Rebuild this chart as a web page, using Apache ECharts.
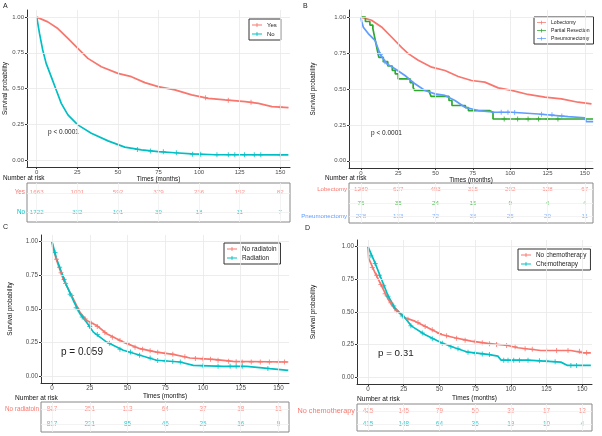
<!DOCTYPE html>
<html lang="en">
<head>
<meta charset="UTF-8" />
<title>Survival curves</title>
<script src="https://cdn.jsdelivr.net/npm/echarts@6/dist/echarts.min.js"></script>
<style>
  html, body { margin: 0; padding: 0; background: #fff; }
  #main { width: 602px; height: 436px; }
</style>
</head>
<body>
<div id="main"></div>
<script>
const RED = '#F8766D', TEAL = '#00BFC4', GREEN = '#2DA82D', BLUE = '#619CFF'
const FONT = 'Liberation Sans, Arial, sans-serif'

// shared ticks
const riskTimes = [0, 25, 50, 75, 100, 125, 150]
const probTicks = [0, 0.25, 0.5, 0.75, 1]

// A: surgery yes / no
const yesCurve = [[0,1],[6.8,0.967],[13,0.92],[19.2,0.851],[25.3,0.781],[31.5,0.711],[39.8,0.652],[50,0.606],[58.3,0.583],[66.6,0.541],[74.8,0.513],[85.1,0.49],[95.4,0.455],[105.7,0.431],[116,0.42],[128.4,0.408],[136.6,0.396],[144.9,0.373],[155.1,0.366]]
const noCurve = [[0,1],[1.7,0.886],[3.7,0.769],[5.8,0.676],[8.9,0.583],[12,0.49],[15.1,0.396],[19.2,0.315],[25.3,0.245],[33.6,0.186],[43.9,0.133],[54.2,0.089],[64.5,0.07],[74.8,0.058],[85,0.05],[95.4,0.042],[110,0.036],[155,0.035]]
const yesCensor = [[104,0.435],[118,0.418],[132,0.404],[150,0.37]]
const noCensor = [[62,0.072],[70,0.062],[78,0.056],[86,0.05],[96,0.04],[101,0.04],[111,0.035],[118,0.035],[122,0.035],[128,0.035],[134,0.035],[138,0.035],[150,0.035]]
const yesRisk = [1663, 1001, 592, 379, 236, 152, 82]
const noRisk = [1722, 332, 101, 39, 18, 11, 7]

// B: type of surgery
const lobCurve = [[0,1],[7.1,0.979],[13.8,0.932],[20.5,0.862],[27.2,0.79],[31.7,0.746],[38.4,0.70],[47.4,0.652],[56.3,0.629],[65.2,0.587],[74.1,0.559],[83,0.548],[92,0.508],[101,0.49],[112,0.462],[123.2,0.443],[134.4,0.431],[145.5,0.408],[154.5,0.396]]
const partCurve = [[0,1],[3,0.97],[6,0.945],[8,0.92],[9,0.87],[10,0.82],[11,0.77],[12,0.72],[15,0.69],[18,0.66],[21,0.63],[23,0.605],[25,0.57],[33,0.545],[35,0.51],[36,0.49],[46,0.475],[47,0.448],[59,0.42],[61,0.385],[70,0.37],[72,0.35],[86,0.338],[88.5,0.291],[155.5,0.291]]
const pneuCurve = [[0,1],[0.5,0.97],[1.6,0.93],[4.9,0.886],[9.4,0.839],[12.7,0.746],[17.2,0.676],[22.8,0.641],[29.5,0.594],[36.2,0.536],[42.9,0.49],[49.6,0.466],[56.3,0.455],[63,0.42],[69.7,0.373],[78.6,0.35],[89.8,0.338],[101,0.338],[118.8,0.326],[138.9,0.308],[150,0.30],[151,0.273],[155.6,0.273]]
const lobCensor = []
const partCensor = [[96,0.291],[105,0.291],[112,0.291],[119,0.291],[125,0.291],[132,0.291]]
const pneuCensor = [[13,0.74],[16,0.69],[94,0.338],[98.5,0.338],[103,0.336],[121,0.325],[128,0.32],[134.6,0.312]]
const lobRisk = [1289, 627, 493, 315, 202, 128, 67]
const partRisk = [76, 35, 24, 15, 9, 4, 4]
const pneuRisk = [278, 133, 72, 38, 25, 20, 11]

// C: radiation
const noRadCurve = [[0,1],[0.5,0.958],[3.1,0.86],[7.5,0.72],[14.1,0.575],[18.5,0.475],[23,0.415],[29.6,0.378],[36.2,0.316],[47.2,0.254],[58.3,0.205],[69.3,0.18],[80.3,0.163],[91.4,0.136],[106.8,0.126],[120,0.111],[156.5,0.106]]
const radCurve = [[0,1],[3.1,0.87],[6.4,0.77],[9.7,0.674],[14.1,0.563],[18.5,0.464],[23,0.40],[27.4,0.328],[36.2,0.254],[47.2,0.193],[58.3,0.156],[69.3,0.119],[84.8,0.106],[93.6,0.081],[113.5,0.074],[129,0.074],[144.4,0.057],[156.5,0.044]]
const noRadCensor = [[3,0.87],[6,0.77],[9,0.69],[13,0.6],[17,0.5],[22,0.425],[26,0.395],[30,0.37],[35,0.325],[40,0.29],[45,0.265],[50,0.245],[55,0.215],[60,0.2],[65,0.19],[70,0.178],[75,0.17],[80,0.163],[88,0.145],[95,0.132],[100,0.128],[105,0.126],[110,0.12],[117,0.112],[122,0.108],[126,0.106],[132,0.106],[138,0.106],[144,0.106],[150,0.106],[154,0.106]]
const radCensor = [[2,0.92],[5,0.81],[8,0.72],[12,0.61],[16,0.51],[20,0.44],[25,0.37],[30,0.31],[38,0.245],[45,0.2],[52,0.18],[58,0.156],[65,0.135],[70,0.118],[75,0.113],[80,0.11],[85,0.106],[100,0.078],[110,0.075],[118,0.074],[122,0.074],[126,0.074],[143,0.058]]
const noRadRisk = [817, 251, 113, 64, 37, 18, 11]
const radRisk = [817, 221, 85, 46, 25, 16, 9]

// D: chemotherapy
const noChemoCurve = [[0,1],[0.5,0.91],[4.9,0.80],[9.5,0.70],[14.2,0.595],[18.8,0.52],[25.8,0.456],[32.8,0.43],[42,0.379],[51.4,0.328],[60.7,0.303],[72.3,0.277],[83.9,0.26],[97.8,0.244],[104.8,0.227],[121,0.206],[142,0.206],[151,0.188],[156,0.188]]
const chemoCurve = [[0,1],[4.9,0.875],[9.5,0.748],[14.2,0.62],[18.8,0.532],[25.8,0.456],[30.5,0.392],[39.7,0.328],[51.4,0.265],[60.7,0.227],[70,0.193],[83.9,0.176],[90.9,0.163],[93.2,0.132],[111.8,0.132],[135,0.117],[139.7,0.092],[156,0.092]]
const noChemoCensor = [[3,0.84],[6,0.78],[9,0.71],[12,0.64],[16,0.57],[20,0.51],[28,0.445],[35,0.42],[40,0.39],[45,0.365],[50,0.335],[55,0.318],[62,0.3],[68,0.285],[75,0.272],[80,0.265],[85,0.258],[90,0.252],[97,0.245],[103,0.235],[110,0.22],[115,0.215],[125,0.206],[132,0.206],[140,0.206],[148,0.2],[153,0.188]]
const chemoCensor = [[2,0.93],[5,0.87],[8,0.78],[11,0.7],[14,0.62],[18,0.545],[24,0.47],[30,0.395],[38,0.34],[45,0.295],[52,0.262],[58,0.235],[63,0.22],[70,0.193],[75,0.185],[80,0.18],[85,0.175],[95,0.132],[98,0.132],[102,0.132],[106,0.132],[112,0.132],[120,0.128],[125,0.125],[131,0.12],[142,0.092],[146,0.092]]
const noChemoRisk = [415, 145, 79, 50, 32, 17, 12]
const chemoRisk = [415, 148, 64, 36, 19, 10, 4]

// layout per panel; fs = [tick, axis title, legend, risk number, row label, "Number at risk"]
const panels = [
  { letter: 'A', letterPos: [3, 3], plot: [27, 10, 263, 157], xr: [-6, 156], table: [27, 183, 263, 39],
    yGap: 19, xGap: 7, names: ['Yes', 'No'], colors: [RED, TEAL], curves: [yesCurve, noCurve],
    censors: [yesCensor, noCensor], steps: [false, false], risk: [yesRisk, noRisk], legendW: 10,
    legend: [249, 19], p: ['p < 0.0001', 48, 132, 6.5], nar: [3, 178], fs: [6, 6.3, 6, 6.2, 6.3, 6.4] },
  { letter: 'B', letterPos: [303, 3], plot: [349, 10, 244, 158], xr: [-8, 155.5], table: [349, 183, 244, 40],
    yGap: 33, xGap: 6, names: ['Lobectomy', 'Partial Resection', 'Pneumonectomy'], colors: [RED, GREEN, BLUE],
    curves: [lobCurve, partCurve, pneuCurve], censors: [lobCensor, partCensor, pneuCensor],
    steps: [false, 'end', false], risk: [lobRisk, partRisk, pneuRisk], legendW: 9,
    legend: [534, 17], p: ['p < 0.0001', 371, 133, 6.5], nar: [325, 178], fs: [6, 6.3, 5.1, 6.2, 6.1, 6.4] },
  { letter: 'C', letterPos: [3, 224], plot: [41, 235, 248, 148], xr: [-7.3, 157], table: [41, 402, 248, 30],
    yGap: 28, xGap: 10, names: ['No radiatoin', 'Radiation'], colors: [RED, TEAL], curves: [noRadCurve, radCurve],
    censors: [noRadCensor, radCensor], steps: [false, false], risk: [noRadRisk, radRisk], legendW: 10,
    legend: [224, 243], p: ['p = 0.059', 61, 352, 10], nar: [15, 398], fs: [6.3, 6.4, 6.4, 6.4, 6.3, 6.6] },
  { letter: 'D', letterPos: [305, 225], plot: [357, 240, 235, 144], xr: [-7.7, 156.8], table: [357, 404, 235, 27],
    yGap: 40, xGap: 11, names: ['No chemotherapy', 'Chemotherapy'], colors: [RED, TEAL],
    curves: [noChemoCurve, chemoCurve], censors: [noChemoCensor, chemoCensor], steps: [false, false],
    risk: [noChemoRisk, chemoRisk], legendW: 10, legend: [518, 249], p: ['p = 0.31', 378, 353, 9.8], nar: [357, 399],
    fs: [6.3, 6.5, 6.4, 6.4, 7.3, 6.6] }
]

const PLUS = 'path://M4,0H6V4H10V6H6V10H4V6H0V4H4Z'
const LEG_ICON = 'path://M0,4H24V6H0Z M11,0H13V10H11Z'

const grid = [], xAxis = [], yAxis = [], series = [], legend = [], graphic = []

panels.forEach((p) => {
  const fs = p.fs
  const gi = grid.length
  // survival plot
  grid.push({ left: p.plot[0], top: p.plot[1], width: p.plot[2], height: p.plot[3] })
  xAxis.push({
    gridIndex: gi, type: 'value', min: p.xr[0], max: p.xr[1],
    axisLine: { onZero: false, lineStyle: { color: '#333', width: 1 } },
    axisTick: { customValues: riskTimes, length: 2, lineStyle: { color: '#333' } },
    axisLabel: { customValues: riskTimes, fontSize: fs[0], color: '#4d4d4d', margin: 2, fontFamily: FONT },
    splitLine: { show: false },
    name: 'Times (months)', nameLocation: 'middle', nameGap: p.xGap,
    nameTextStyle: { fontSize: fs[1], color: '#111', fontFamily: FONT }
  })
  yAxis.push({
    gridIndex: gi, type: 'value', min: -0.05, max: 1.05,
    axisLine: { show: true, onZero: false, lineStyle: { color: '#333', width: 1 } },
    axisTick: { show: true, customValues: probTicks, length: 2, lineStyle: { color: '#333' } },
    axisLabel: { customValues: probTicks, fontSize: fs[0], color: '#4d4d4d', margin: 3, fontFamily: FONT,
      formatter: v => v.toFixed(2) },
    splitLine: { show: false },
    name: 'Survival probability', nameLocation: 'middle', nameGap: p.yGap, nameRotate: 90,
    nameTextStyle: { fontSize: fs[1], color: '#111', fontFamily: FONT }
  })
  // grid lines, carried by an invisible copy of the first curve
  series.push({
    type: 'line', xAxisIndex: gi, yAxisIndex: gi, data: p.curves[0], silent: true, z: 1,
    showSymbol: false, lineStyle: { opacity: 0 }, tooltip: { show: false },
    markLine: {
      silent: true, symbol: 'none', label: { show: false }, animation: false,
      lineStyle: { color: '#e9e9e9', width: 0.8, type: 'solid' },
      data: riskTimes.map(t => ({ xAxis: t })).concat(probTicks.map(v => ({ yAxis: v })))
    }
  })
  p.names.forEach((name, i) => {
    series.push({
      type: 'line', name, xAxisIndex: gi, yAxisIndex: gi, data: p.curves[i], step: p.steps[i],
      showSymbol: false, z: 3, lineStyle: { width: 1.7, color: p.colors[i] }, itemStyle: { color: p.colors[i] }
    })
    series.push({
      type: 'scatter', name: name + ' censor', xAxisIndex: gi, yAxisIndex: gi, data: p.censors[i],
      symbol: PLUS, symbolSize: 5, z: 4, silent: true, itemStyle: { color: p.colors[i] }
    })
  })

  // risk table
  const ti = grid.length
  grid.push({ left: p.table[0], top: p.table[1], width: p.table[2], height: p.table[3],
    show: true, borderColor: '#888', borderWidth: 1 })
  xAxis.push({ gridIndex: ti, type: 'value', min: p.xr[0], max: p.xr[1], show: false })
  const rich = {}
  p.colors.forEach((c, i) => { rich['c' + i] = { color: c, fontSize: fs[4], fontFamily: FONT } })
  yAxis.push({
    gridIndex: ti, type: 'category', data: p.names, inverse: true,
    axisLine: { show: false },
    axisTick: { show: true, alignWithLabel: true, length: 2, lineStyle: { color: '#333' } },
    axisLabel: { margin: 2, formatter: (v, i) => '{c' + i + '|' + v + '}', rich },
    splitLine: { show: false }
  })
  p.names.forEach((name, i) => {
    series.push({
      type: 'scatter', xAxisIndex: ti, yAxisIndex: ti, symbolSize: 0, silent: true, z: 3,
      data: riskTimes.map((t, j) => [t, i, p.risk[i][j]]),
      label: { show: true, position: 'inside', formatter: d => d.value[2], fontSize: fs[3],
        color: p.colors[i], fontFamily: FONT },
      markLine: i === 0 ? {
        silent: true, symbol: 'none', label: { show: false }, animation: false,
        lineStyle: { color: '#f0f0f0', width: 0.8, type: 'solid' },
        data: riskTimes.map(t => ({ xAxis: t })).concat(p.names.map(n => ({ yAxis: n })))
      } : undefined
    })
  })

  legend.push({
    data: p.names, left: p.legend[0], top: p.legend[1], orient: 'vertical',
    icon: LEG_ICON, itemWidth: p.legendW, itemHeight: 5, itemGap: 3,
    padding: [3, 4, 3, 3], borderColor: '#333', borderWidth: 1, borderRadius: 0,
    backgroundColor: '#fff', selectedMode: false,
    textStyle: { fontSize: fs[2], color: '#222', fontFamily: FONT }
  })

  graphic.push(
    { type: 'text', left: p.letterPos[0], top: p.letterPos[1],
      style: { text: p.letter, fontSize: 7, fill: '#222', fontFamily: FONT } },
    { type: 'text', x: p.p[1], y: p.p[2],
      style: { text: p.p[0], fontSize: p.p[3], fill: '#222', fontFamily: FONT, verticalAlign: 'middle' } },
    { type: 'text', x: p.nar[0], y: p.nar[1],
      style: { text: 'Number at risk', fontSize: fs[5], fill: '#111', fontFamily: FONT, verticalAlign: 'middle' } }
  )
})

const myChart = echarts.init(document.getElementById('main'))
myChart.setOption({
  animation: false,
  backgroundColor: '#fff',
  textStyle: { fontFamily: FONT },
  grid, xAxis, yAxis, series, legend, graphic
})
</script>
</body>
</html>
